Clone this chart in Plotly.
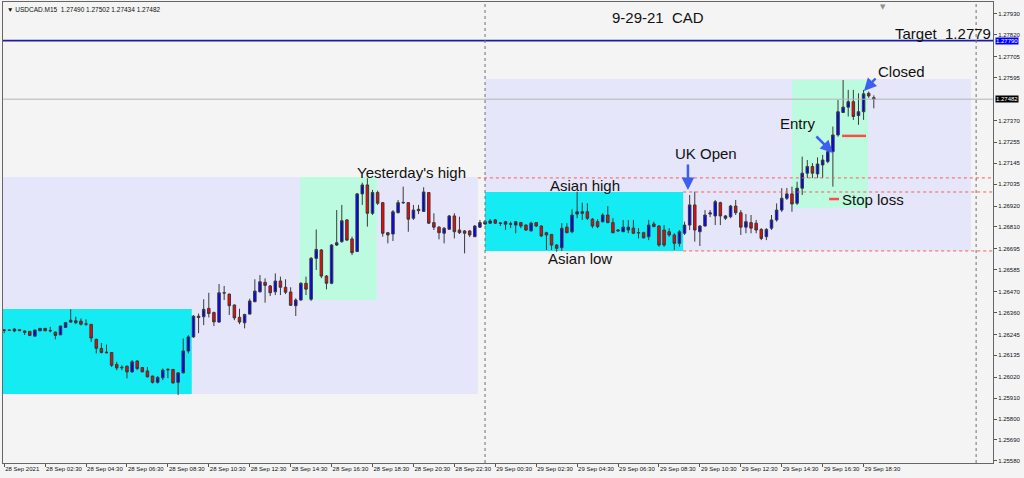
import plotly.graph_objects as go
import pandas as pd

# ---------------- data ----------------
start_time = "2021-09-28 00:30"
n_bars = 171

opens = [
1.26266, 1.26268, 1.26263, 1.26270, 1.26263, 1.26261, 1.26236, 1.26264, 1.26277, 1.26266,
1.26257, 1.26243, 1.26282, 1.26310, 1.26317, 1.26315, 1.26301, 1.26298, 1.26219, 1.26171,
1.26152, 1.26150, 1.26087, 1.26073, 1.26078, 1.26048, 1.26105, 1.26071, 1.26053, 1.26026,
1.25993, 1.26017, 1.26062, 1.26061, 1.25993, 1.26043, 1.26158, 1.26232, 1.26341, 1.26338,
1.26382, 1.26360, 1.26310, 1.26464, 1.26457, 1.26400, 1.26335, 1.26306, 1.26352, 1.26417,
1.26469, 1.26519, 1.26500, 1.26469, 1.26526, 1.26493, 1.26468, 1.26396, 1.26426, 1.26514,
1.26430, 1.26645, 1.26689, 1.26552, 1.26514, 1.26715, 1.26733, 1.26847, 1.26747, 1.26681,
1.26984, 1.27031, 1.26882, 1.26991, 1.26938, 1.26780, 1.26773, 1.26885, 1.26937, 1.26938,
1.26856, 1.26903, 1.26892, 1.26991, 1.26833, 1.26809, 1.26777, 1.26798, 1.26868, 1.26794,
1.26789, 1.26789, 1.26759, 1.26809, 1.26826, 1.26830, 1.26847, 1.26831, 1.26825, 1.26827,
1.26820, 1.26833, 1.26820, 1.26790, 1.26833, 1.26815, 1.26780, 1.26771, 1.26715, 1.26701,
1.26809, 1.26785, 1.26878, 1.26882, 1.26890, 1.26851, 1.26838, 1.26838, 1.26873, 1.26833,
1.26789, 1.26785, 1.26794, 1.26804, 1.26781, 1.26780, 1.26759, 1.26826, 1.26815, 1.26794,
1.26785, 1.26768, 1.26724, 1.26777, 1.26820, 1.26926, 1.26785, 1.26815, 1.26878, 1.26868,
1.26938, 1.26856, 1.26864, 1.26920, 1.26885, 1.26809, 1.26833, 1.26830, 1.26797, 1.26759,
1.26804, 1.26847, 1.26899, 1.26961, 1.26984, 1.26935, 1.27014, 1.27093, 1.27128, 1.27089,
1.27136, 1.27154, 1.27206, 1.27294, 1.27412, 1.27440, 1.27469, 1.27396, 1.27416, 1.27513,
1.27490]

highs = [
1.26273, 1.26273, 1.26278, 1.26273, 1.26265, 1.26263, 1.26270, 1.26278, 1.26278, 1.26285,
1.26260, 1.26291, 1.26310, 1.26377, 1.26338, 1.26329, 1.26324, 1.26299, 1.26223, 1.26200,
1.26192, 1.26152, 1.26101, 1.26083, 1.26081, 1.26110, 1.26110, 1.26073, 1.26074, 1.26028,
1.26026, 1.26066, 1.26066, 1.26062, 1.26047, 1.26224, 1.26241, 1.26347, 1.26355, 1.26430,
1.26464, 1.26365, 1.26510, 1.26500, 1.26460, 1.26402, 1.26380, 1.26354, 1.26433, 1.26535,
1.26557, 1.26540, 1.26505, 1.26566, 1.26549, 1.26535, 1.26493, 1.26435, 1.26519, 1.26549,
1.26652, 1.26797, 1.26694, 1.26557, 1.26720, 1.26899, 1.26926, 1.26852, 1.26759, 1.26989,
1.27043, 1.27066, 1.27005, 1.27001, 1.26941, 1.26784, 1.26899, 1.26952, 1.27022, 1.26941,
1.26926, 1.26926, 1.27019, 1.26994, 1.26882, 1.26815, 1.26810, 1.26873, 1.26882, 1.26864,
1.26794, 1.26794, 1.26820, 1.26847, 1.26847, 1.26852, 1.26852, 1.26836, 1.26842, 1.26838,
1.26842, 1.26836, 1.26824, 1.26838, 1.26836, 1.26818, 1.26785, 1.26773, 1.26720, 1.26830,
1.26830, 1.26903, 1.26996, 1.26938, 1.26935, 1.26857, 1.26851, 1.26882, 1.26920, 1.26856,
1.26799, 1.26847, 1.26847, 1.26847, 1.26804, 1.26785, 1.26847, 1.26838, 1.26820, 1.26820,
1.26804, 1.26777, 1.26794, 1.26838, 1.26978, 1.26996, 1.26820, 1.26899, 1.26899, 1.26952,
1.26943, 1.26873, 1.26926, 1.26952, 1.26899, 1.26878, 1.26873, 1.26847, 1.26804, 1.26804,
1.26873, 1.26934, 1.27014, 1.27015, 1.27022, 1.27048, 1.27180, 1.27162, 1.27146, 1.27176,
1.27189, 1.27215, 1.27338, 1.27478, 1.27583, 1.27531, 1.27531, 1.27513, 1.27531, 1.27522,
1.27502]

lows = [
1.26252, 1.26263, 1.26257, 1.26263, 1.26242, 1.26236, 1.26234, 1.26263, 1.26263, 1.26256,
1.26219, 1.26241, 1.26281, 1.26307, 1.26299, 1.26292, 1.26290, 1.26206, 1.26145, 1.26145,
1.26145, 1.26074, 1.26057, 1.26057, 1.26014, 1.26043, 1.26057, 1.26047, 1.26019, 1.25987,
1.25987, 1.26005, 1.26015, 1.25987, 1.25926, 1.26040, 1.26145, 1.26227, 1.26252, 1.26294,
1.26334, 1.26289, 1.26306, 1.26426, 1.26347, 1.26320, 1.26299, 1.26277, 1.26350, 1.26415,
1.26466, 1.26412, 1.26447, 1.26452, 1.26452, 1.26457, 1.26396, 1.26342, 1.26422, 1.26452,
1.26421, 1.26584, 1.26541, 1.26482, 1.26509, 1.26710, 1.26727, 1.26736, 1.26662, 1.26678,
1.26926, 1.26812, 1.26873, 1.26926, 1.26759, 1.26724, 1.26736, 1.26882, 1.26931, 1.26785,
1.26847, 1.26878, 1.26889, 1.26826, 1.26794, 1.26745, 1.26724, 1.26794, 1.26750, 1.26773,
1.26671, 1.26757, 1.26757, 1.26805, 1.26820, 1.26826, 1.26826, 1.26815, 1.26794, 1.26804,
1.26777, 1.26804, 1.26789, 1.26785, 1.26810, 1.26757, 1.26689, 1.26689, 1.26680, 1.26684,
1.26777, 1.26777, 1.26856, 1.26847, 1.26847, 1.26804, 1.26804, 1.26833, 1.26830, 1.26777,
1.26784, 1.26784, 1.26778, 1.26773, 1.26750, 1.26750, 1.26741, 1.26809, 1.26706, 1.26706,
1.26759, 1.26689, 1.26706, 1.26768, 1.26794, 1.26733, 1.26710, 1.26812, 1.26862, 1.26820,
1.26820, 1.26847, 1.26856, 1.26873, 1.26768, 1.26777, 1.26777, 1.26777, 1.26741, 1.26741,
1.26794, 1.26838, 1.26889, 1.26952, 1.26890, 1.26926, 1.26978, 1.27067, 1.27067, 1.27067,
1.27067, 1.27145, 1.27022, 1.27285, 1.27409, 1.27391, 1.27373, 1.27347, 1.27373, 1.27489,
1.27434]

closes = [
1.26268, 1.26266, 1.26273, 1.26265, 1.26256, 1.26240, 1.26268, 1.26277, 1.26264, 1.26264,
1.26240, 1.26289, 1.26307, 1.26320, 1.26307, 1.26299, 1.26299, 1.26226, 1.26172, 1.26150,
1.26149, 1.26083, 1.26069, 1.26070, 1.26048, 1.26101, 1.26066, 1.26048, 1.26022, 1.25993,
1.26019, 1.26057, 1.26059, 1.25990, 1.26043, 1.26158, 1.26232, 1.26341, 1.26334, 1.26377,
1.26355, 1.26311, 1.26464, 1.26463, 1.26396, 1.26332, 1.26310, 1.26350, 1.26421, 1.26473,
1.26522, 1.26503, 1.26464, 1.26526, 1.26493, 1.26467, 1.26398, 1.26426, 1.26514, 1.26483,
1.26645, 1.26692, 1.26552, 1.26514, 1.26715, 1.26727, 1.26843, 1.26741, 1.26675, 1.26984,
1.27031, 1.26882, 1.26991, 1.26935, 1.26777, 1.26768, 1.26890, 1.26938, 1.26939, 1.26851,
1.26899, 1.26896, 1.26994, 1.26830, 1.26809, 1.26780, 1.26803, 1.26868, 1.26785, 1.26780,
1.26777, 1.26768, 1.26815, 1.26833, 1.26838, 1.26842, 1.26830, 1.26829, 1.26838, 1.26825,
1.26838, 1.26815, 1.26794, 1.26830, 1.26815, 1.26763, 1.26768, 1.26715, 1.26698, 1.26803,
1.26780, 1.26873, 1.26890, 1.26890, 1.26856, 1.26815, 1.26812, 1.26873, 1.26833, 1.26780,
1.26794, 1.26809, 1.26809, 1.26777, 1.26779, 1.26753, 1.26820, 1.26812, 1.26715, 1.26715,
1.26768, 1.26724, 1.26785, 1.26820, 1.26926, 1.26794, 1.26815, 1.26873, 1.26884, 1.26943,
1.26868, 1.26868, 1.26920, 1.26885, 1.26809, 1.26838, 1.26804, 1.26794, 1.26750, 1.26797,
1.26847, 1.26899, 1.26961, 1.26984, 1.26931, 1.27014, 1.27093, 1.27128, 1.27093, 1.27141,
1.27162, 1.27206, 1.27294, 1.27416, 1.27440, 1.27469, 1.27391, 1.27416, 1.27510, 1.27499,
1.27482]

x_tick_times = [
"2021-09-28 00:30", "2021-09-28 02:30", "2021-09-28 04:30", "2021-09-28 06:30",
"2021-09-28 08:30", "2021-09-28 10:30", "2021-09-28 12:30", "2021-09-28 14:30",
"2021-09-28 16:30", "2021-09-28 18:30", "2021-09-28 20:30", "2021-09-28 22:30",
"2021-09-29 00:30", "2021-09-29 02:30", "2021-09-29 04:30", "2021-09-29 06:30",
"2021-09-29 08:30", "2021-09-29 10:30", "2021-09-29 12:30", "2021-09-29 14:30",
"2021-09-29 16:30", "2021-09-29 18:30"]
x_tick_labels = [
"28 Sep 2021", "28 Sep 02:30", "28 Sep 04:30", "28 Sep 06:30", "28 Sep 08:30",
"28 Sep 10:30", "28 Sep 12:30", "28 Sep 14:30", "28 Sep 16:30", "28 Sep 18:30",
"28 Sep 20:30", "28 Sep 22:30", "29 Sep 00:30", "29 Sep 02:30", "29 Sep 04:30",
"29 Sep 06:30", "29 Sep 08:30", "29 Sep 10:30", "29 Sep 12:30", "29 Sep 14:30",
"29 Sep 16:30", "29 Sep 18:30"]

y_tick_values = [1.27930, 1.27820, 1.27705, 1.27595, 1.27370, 1.27255, 1.27145,
                 1.27035, 1.26920, 1.26810, 1.26695, 1.26585, 1.26470, 1.26360,
                 1.26245, 1.26135, 1.26020, 1.25910, 1.25800, 1.25690, 1.25580]
y_tick_labels = ["%.5f" % v for v in y_tick_values]

target_price = 1.27790
bid_price = 1.27482
yesterday_high = 1.27068
asian_high = 1.26994
asian_low = 1.26684
entry_price = 1.27289
stop_price = 1.26957

# ---------------- figure ----------------
times = pd.date_range(start_time, periods=n_bars, freq="15min")

BG = "#f4f4f4"
LAV = "#e6e6fa"
CYAN = "#14ebf2"
GREEN = "#bdfbe0"
XR = ["2021-09-28 00:26:30", "2021-09-30 00:49:30"]
YR = [1.25569, 1.27993]

fig = go.Figure()
fig.add_trace(go.Candlestick(
    x=times, open=opens, high=highs, low=lows, close=closes,
    increasing=dict(fillcolor="#0000ff", line=dict(color="#3a3a3a", width=1)),
    decreasing=dict(fillcolor="#ff0000", line=dict(color="#3a3a3a", width=1)),
    whiskerwidth=0, hoverinfo="skip", showlegend=False))

shapes = []
def rect(x0, x1, y0, y1, color):
    shapes.append(dict(type="rect", xref="x", yref="y", x0=x0, x1=x1, y0=y0, y1=y1,
                       fillcolor=color, line=dict(width=0), layer="below"))

rect("2021-09-28 00:00", "2021-09-28 23:39", 1.25932, 1.27073, LAV)
rect("2021-09-28 00:00", "2021-09-28 09:40", 1.25932, 1.26379, CYAN)
rect("2021-09-28 14:57", "2021-09-28 18:43", 1.26426, 1.27073, GREEN)
rect("2021-09-29 00:00", "2021-09-29 23:45", asian_low, 1.27588, LAV)
rect("2021-09-29 00:00", "2021-09-29 09:41", asian_low, asian_high, CYAN)
rect("2021-09-29 15:00", "2021-09-29 18:43", 1.26910, 1.27583, GREEN)

def hline(x0, x1, y, color, width, dash="solid"):
    shapes.append(dict(type="line", xref="x", yref="y", x0=x0, x1=x1, y0=y, y1=y,
                       line=dict(color=color, width=width, dash=dash)))

hline(XR[0], XR[1], bid_price, "#b4b4b4", 1)
hline(XR[0], XR[1], target_price, "#1c1ca8", 1.6)
hline("2021-09-28 23:39", XR[1], yesterday_high, "#ff5a5a", 1, "dot")
hline("2021-09-29 09:41", XR[1], asian_high, "#ff5a5a", 1, "dot")
hline("2021-09-29 09:41", XR[1], asian_low, "#ff5a5a", 1, "dot")
hline("2021-09-29 17:27", "2021-09-29 18:37", entry_price, "#ff4a4a", 2.5)
hline("2021-09-29 16:49", "2021-09-29 17:18", stop_price, "#ff4a4a", 2.5)

for sep in ["2021-09-29 00:00", "2021-09-30 00:00"]:
    shapes.append(dict(type="line", xref="x", yref="paper", x0=sep, x1=sep, y0=0, y1=1,
                       line=dict(color="#707070", width=1, dash="dot")))

TXT = dict(family="Liberation Sans, Arial, sans-serif", size=15, color="#111111")
ann = []
def label(x, y, text):
    ann.append(dict(x=x, y=y, xref="x", yref="y", text=text, showarrow=False,
                    xanchor="left", yanchor="middle", font=TXT, xshift=-2))

label("2021-09-29 06:12", 1.27909, "9-29-21  CAD")
label("2021-09-29 20:03", 1.27830, "Target  1.2779")
label("2021-09-29 19:12", 1.27625, "Closed")
label("2021-09-29 14:25", 1.27352, "Entry")
label("2021-09-29 09:17", 1.27199, "UK Open")
label("2021-09-28 17:45", 1.27094, "Yesterday's high")
label("2021-09-29 03:11", 1.27026, "Asian high")
label("2021-09-29 17:27", 1.26957, "Stop loss")
label("2021-09-29 03:05", 1.26642, "Asian low")

ARROW = "#3d5ef2"
def arrow(x, y, ax, ay):
    ann.append(dict(x=x, y=y, xref="x", yref="y", text="", showarrow=True,
                    ax=ax, ay=ay, arrowcolor=ARROW, arrowwidth=2.5, arrowhead=2,
                    arrowsize=1, standoff=0))

arrow("2021-09-29 09:55", 1.27005, 0, -27)
arrow("2021-09-29 17:00", 1.27199, -18, -18)
arrow("2021-09-29 18:31", 1.27525, 13, -14)

SMALL = dict(family="Liberation Sans, Arial, sans-serif", size=6.5, color="#111111")
ann.append(dict(xref="paper", yref="paper", x=0, y=1, xshift=2, yshift=-2,
                xanchor="left", yanchor="top", showarrow=False,
                text="\u25bc USDCAD.M15  1.27490 1.27502 1.27434 1.27482", font=SMALL))
ann.append(dict(xref="x", yref="paper", x="2021-09-29 19:27", y=1, yshift=1,
                xanchor="center", yanchor="top", showarrow=False, text="\u25bc",
                font=dict(family="DejaVu Sans", size=7, color="#909090")))
for price, bg in [(target_price, "#0000ff"), (bid_price, "#000000")]:
    ann.append(dict(xref="paper", yref="y", x=1, y=price, xshift=2, xanchor="left",
                    yanchor="middle", showarrow=False, text="%.5f" % price,
                    bgcolor=bg, borderpad=0,
                    font=dict(family="Liberation Sans, Arial, sans-serif", size=6, color="#ffffff")))

fig.update_layout(
    width=1024, height=478,
    margin=dict(l=3, r=31, t=2, b=15, autoexpand=False),
    paper_bgcolor=BG, plot_bgcolor=BG,
    shapes=shapes, annotations=ann, showlegend=False,
    xaxis=dict(type="date", range=XR, rangeslider=dict(visible=False),
               tickvals=x_tick_times, ticktext=x_tick_labels, tickangle=0,
               ticklabelposition="outside right", ticks="outside", ticklen=3,
               tickcolor="#555555", showgrid=False, zeroline=False, automargin=False,
               showline=True, linecolor="#666666", linewidth=1, mirror=True,
               tickfont=dict(family="Liberation Sans, Arial, sans-serif", size=6, color="#111111")),
    yaxis=dict(range=YR, side="right", tickvals=y_tick_values, ticktext=y_tick_labels,
               ticks="outside", ticklen=3, tickcolor="#555555", showgrid=False, automargin=False,
               zeroline=False, showline=True, linecolor="#666666", linewidth=1, mirror=True,
               tickfont=dict(family="Liberation Sans, Arial, sans-serif", size=6, color="#111111")),
)

fig.write_html("out.html", config={"displayModeBar": False},
               post_script="document.body.style.margin='0px';document.body.style.padding='0px';"
                           "document.body.style.overflow='hidden';")
